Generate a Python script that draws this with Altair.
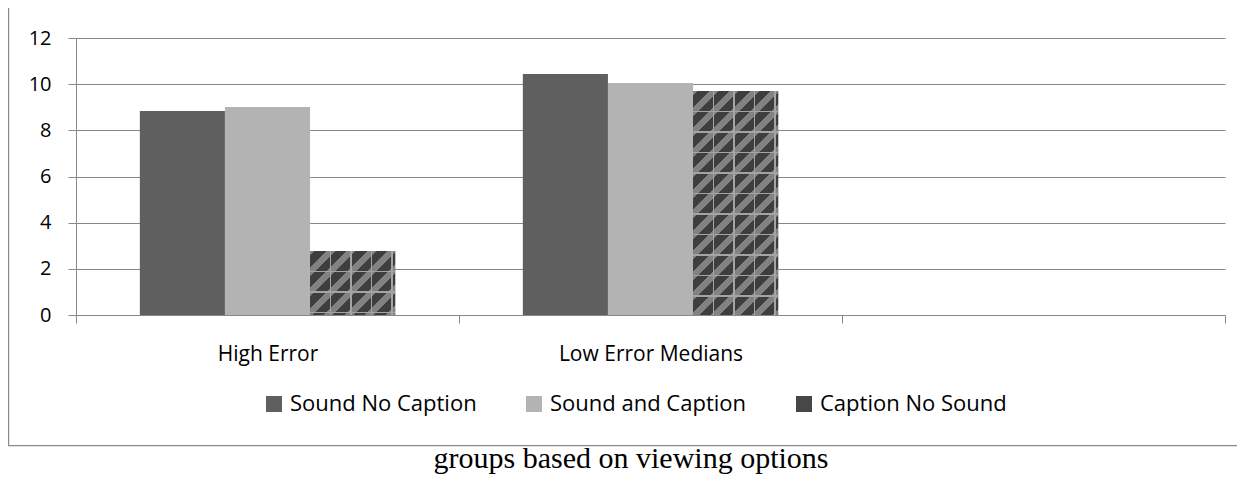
import altair as alt
import pandas as pd

# ---- data ----
groups = ["High Error", "Low Error Medians"]
axis_domain = ["High Error", "Low Error Medians", " "]
series = ["Sound No Caption", "Sound and Caption", "Caption No Sound"]
high_error = [8.84, 9.01, 2.77]
low_error_medians = [10.44, 10.05, 9.70]
colors = ["#5f5f5f", "#b3b3b3", "#474747"]
caption = "groups based on viewing options"

rows = []
for s, v in zip(series, high_error):
    rows.append({"group": groups[0], "series": s, "value": v})
for s, v in zip(series, low_error_medians):
    rows.append({"group": groups[1], "series": s, "value": v})
df = pd.DataFrame(rows)

# ---- layout ----
W, H = 1149, 277
YMAX = 12
PAD_OUT = 0.75
step = W / len(axis_domain)
bar_w = step / (len(series) + 2 * PAD_OUT)
px_per_unit = H / YMAX
GRID = "#888888"
FONT = "Open Sans"

# ---- hatch pattern built from gradients (styling only) ----
P = 20.5
DARK, STRIPE, LINE = "#3e3e3e", "#828282", "#a4a4a4"


def stripe_gradient(h, w=bar_w, half=4.6):
    S = w + h
    d = w * w + h * h
    stops = [{"offset": 0, "color": DARK}]
    k = 0
    while True:
        c = k * P
        a = max(0.0, (c - half) / S)
        b = min(1.0, (c + half) / S)
        if a >= 1:
            break
        stops += [{"offset": a, "color": DARK}, {"offset": a, "color": STRIPE},
                  {"offset": b, "color": STRIPE}, {"offset": b, "color": DARK}]
        k += 1
    stops.append({"offset": 1, "color": DARK})
    return {"gradient": "linear", "x1": 0, "y1": 0,
            "x2": w * S / d, "y2": h * S / d, "stops": stops}


def line_gradient(length, vertical, lw=1.2):
    stops = [{"offset": 0, "color": "transparent"}]
    j = 1
    while j * P < length - 1:
        a = (j * P - lw / 2) / length
        b = (j * P + lw / 2) / length
        stops += [{"offset": a, "color": "transparent"}, {"offset": a, "color": LINE},
                  {"offset": b, "color": LINE}, {"offset": b, "color": "transparent"}]
        j += 1
    stops.append({"offset": 1, "color": "transparent"})
    g = {"gradient": "linear", "x1": 0, "y1": 0, "stops": stops}
    if vertical:
        g.update({"x2": 0, "y2": 1})
    else:
        g.update({"x2": 1, "y2": 0})
    return g


base = alt.Chart(df).encode(
    x=alt.X("group:N",
            scale=alt.Scale(domain=axis_domain, paddingInner=0, paddingOuter=0),
            axis=alt.Axis(title=None, labelAngle=0, tickBand="extent", tickSize=8,
                          tickColor=GRID, domainColor=GRID, labelFont=FONT,
                          labelFontSize=21, labelColor="#000000", labelPadding=20,
                          labelLimit=0, grid=False)),
    xOffset=alt.XOffset("series:N",
                        scale=alt.Scale(domain=series, paddingInner=0, paddingOuter=PAD_OUT)),
    y=alt.Y("value:Q",
            scale=alt.Scale(domain=[0, YMAX], nice=False),
            axis=alt.Axis(title=None, values=[0, 2, 4, 6, 8, 10, 12], tickSize=8,
                          tickColor=GRID, domainColor=GRID, gridColor=GRID,
                          gridOpacity=1, labelFont=FONT, labelFontSize=20,
                          labelColor="#000000", labelPadding=17, grid=True)),
)

bars = base.mark_bar().encode(
    color=alt.Color("series:N",
                    scale=alt.Scale(domain=series, range=colors),
                    legend=alt.Legend(orient="none", legendX=187, legendY=355,
                                      direction="horizontal", title=None,
                                      symbolType="square", symbolSize=256,
                                      symbolStrokeWidth=0, labelFont=FONT,
                                      labelFontSize=22, labelColor="#000000",
                                      labelOffset=5, columnPadding=46,
                                      padding=0, labelLimit=0))
)

layers = [bars]
cns = series[2]
for g, vals in zip(groups, [high_error, low_error_medians]):
    h = vals[2] * px_per_unit
    sel = base.transform_filter(
        (alt.datum.group == g) & (alt.datum.series == cns))
    layers.append(sel.mark_bar(fill=stripe_gradient(h)))
    layers.append(sel.mark_bar(fill=line_gradient(h, vertical=True)))

vlines = base.transform_filter(alt.datum.series == cns).mark_bar(
    fill=line_gradient(bar_w, vertical=False))
layers.append(vlines)

one = pd.DataFrame({"t": [caption]})
border_left = alt.Chart(one).mark_rule(color="#8a8a8a", strokeWidth=1.2).encode(
    x=alt.value(-67.4), y=alt.value(-30), y2=alt.value(408))
border_bottom = alt.Chart(one).mark_rule(color="#8a8a8a", strokeWidth=1.2).encode(
    x=alt.value(-68), x2=alt.value(W + 12), y=alt.value(407.6))
caption_text = alt.Chart(one).mark_text(
    font="Liberation Serif", fontSize=30, align="center", baseline="alphabetic",
    color="#000000").encode(text="t:N", x=alt.value(555), y=alt.value(430))

chart = alt.layer(*layers, border_left, border_bottom, caption_text).properties(
    width=W, height=H,
    padding={"left": 68, "top": 30, "right": 12, "bottom": 161},
    autosize=alt.AutoSizeParams(type="none"),
    background="white",
).configure_view(stroke=None)

chart.save("out.html", embed_options={"renderer": "svg", "actions": False})
